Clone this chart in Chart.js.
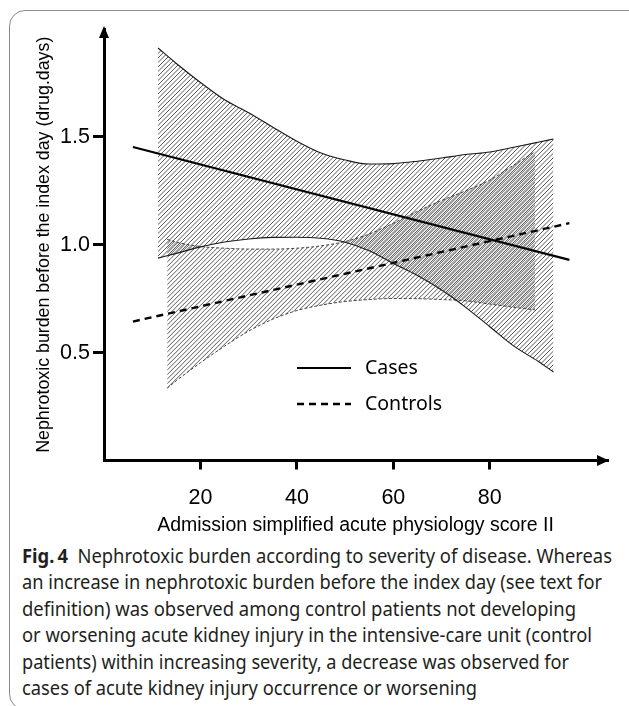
<!DOCTYPE html>
<html><head><meta charset="utf-8">
<script src="https://cdn.jsdelivr.net/npm/chart.js@4.4.1/dist/chart.umd.min.js"></script>
<style>
html,body{margin:0;padding:0;background:#fff;width:629px;height:706px;overflow:hidden;position:relative}
#frame{position:absolute;left:9px;top:10px;width:650px;height:700px;border:1.4px solid #8c8c8c;border-radius:16px;box-sizing:border-box}
#wrap{position:absolute;left:0;top:0;width:629px;height:540px}
#caption{position:absolute;left:22px;top:543px;font-family:'Noto Sans',sans-serif;font-size:19.5px;line-height:26.4px;color:#231f20}
.ln{white-space:nowrap;transform-origin:0 50%;display:block;width:max-content}
</style></head><body>
<div id="frame"></div>
<div id="wrap"><canvas id="c" width="629" height="540"></canvas></div>
<div id="caption"></div>
<script>
// ---- data ----
const xTicks = [20, 40, 60, 80];
const yTicks = [0.5, 1.0, 1.5];
const casesBandX  = [11.2, 15, 20, 25, 30, 35, 40, 45, 50, 55, 60, 65, 70, 75, 80, 85, 90, 93.2];
const casesUpper  = [1.912, 1.84, 1.752, 1.672, 1.612, 1.545, 1.480, 1.425, 1.393, 1.374, 1.376, 1.387, 1.402, 1.418, 1.430, 1.452, 1.475, 1.490];
const casesLower  = [0.938, 0.96, 0.99, 1.013, 1.027, 1.034, 1.035, 1.03, 1.012, 0.972, 0.913, 0.857, 0.79, 0.71, 0.62, 0.53, 0.46, 0.41];
const ctrlBandX   = [13.1, 15, 20, 25, 30, 35, 40, 45, 50, 55, 60, 65, 70, 75, 80, 85, 89.4];
const ctrlUpper   = [1.025, 1.012, 0.992, 0.984, 0.98, 0.98, 0.984, 0.995, 1.015, 1.05, 1.10, 1.155, 1.205, 1.25, 1.30, 1.37, 1.432];
const ctrlLower   = [0.335, 0.37, 0.453, 0.53, 0.60, 0.655, 0.695, 0.72, 0.737, 0.746, 0.751, 0.75, 0.746, 0.74, 0.725, 0.71, 0.698];
const lineX        = [6, 96.5];
const casesLine    = [1.453, 0.93];
const controlsLine = [0.644, 1.10];
const seriesNames  = ['Cases', 'Controls'];
const xTitle = 'Admission simplified acute physiology score II';
const yTitle = 'Nephrotoxic burden before the index day (drug.days)';
const captionLines = [
  '<b>Fig.\u202f4</b>&nbsp; Nephrotoxic burden according to severity of disease. Whereas',
  'an increase in nephrotoxic burden before the index day (see text for',
  'definition) was observed among control patients not developing',
  'or worsening acute kidney injury in the intensive-care unit (control',
  'patients) within increasing severity, a decrease was observed for',
  'cases of acute kidney injury occurrence or worsening'
];
// ---- layout ----
const captionWidths = [590, 580, 554, 570, 547, 455];

function pts(xs, ys){ return xs.map((x,i)=>({x:x, y:ys[i]})); }

function hatch(offset, alpha){
  const w=9, h=9;
  const c=document.createElement('canvas'); c.width=w; c.height=h;
  const g=c.getContext('2d');
  g.strokeStyle='rgba(25,25,25,'+alpha+')'; g.lineWidth=1;
  for (let k=-4;k<=4;k++){
    const x0=k*4.5+offset;
    g.beginPath(); g.moveTo(x0,h); g.lineTo(x0+w,0); g.stroke();
  }
  return g.createPattern(c,'repeat');
}

const arrows = {
  id:'arrows',
  afterDraw(chart){
    const ctx=chart.ctx, a=chart.chartArea;
    ctx.save(); ctx.fillStyle='#000';
    ctx.beginPath(); ctx.moveTo(a.left, a.top-3); ctx.lineTo(a.left-5, a.top+9); ctx.lineTo(a.left+5, a.top+9); ctx.closePath(); ctx.fill();
    ctx.beginPath(); ctx.moveTo(a.right+2, a.bottom); ctx.lineTo(a.right-10, a.bottom-5.5); ctx.lineTo(a.right-10, a.bottom+5.5); ctx.closePath(); ctx.fill();
    ctx.restore();
  }
};

const inlineLegend = {
  id:'inlineLegend',
  afterDatasetsDraw(chart){
    const ctx=chart.ctx, a=chart.chartArea;
    const items=[{ds:4, dy:339}, {ds:5, dy:375}];
    ctx.save();
    items.forEach(it=>{
      const d=chart.data.datasets[it.ds];
      const y=a.top+it.dy;
      ctx.strokeStyle=d.borderColor; ctx.lineWidth=d.borderWidth;
      ctx.setLineDash(d.borderDash||[]);
      ctx.beginPath(); ctx.moveTo(a.left+193, y); ctx.lineTo(a.left+247, y); ctx.stroke();
      ctx.setLineDash([]);
      ctx.fillStyle='#000'; ctx.font='19.5px "Noto Sans"'; ctx.textBaseline='middle';
      ctx.fillText(d.label, a.left+261, y);
    });
    ctx.restore();
  }
};

const ctx=document.getElementById('c').getContext('2d');
const casePat=hatch(0, 0.72), ctrlPat=hatch(1.8, 0.72);

new Chart(ctx,{
  type:'line',
  data:{datasets:[
    {label:'Cases upper', data:pts(casesBandX,casesUpper), borderColor:'#1a1a1a', borderWidth:1.1, pointRadius:0, fill:false, cubicInterpolationMode:'monotone'},
    {label:'Cases lower', data:pts(casesBandX,casesLower), borderColor:'#1a1a1a', borderWidth:1.1, pointRadius:0, fill:'-1', backgroundColor:casePat, cubicInterpolationMode:'monotone'},
    {label:'Controls upper', data:pts(ctrlBandX,ctrlUpper), borderColor:'#444', borderWidth:1, borderDash:[3,2], pointRadius:0, fill:false, cubicInterpolationMode:'monotone'},
    {label:'Controls lower', data:pts(ctrlBandX,ctrlLower), borderColor:'#444', borderWidth:1, borderDash:[3,2], pointRadius:0, fill:'-1', backgroundColor:ctrlPat, cubicInterpolationMode:'monotone'},
    {label:seriesNames[0], data:pts(lineX,casesLine), borderColor:'#000', borderWidth:2.2, pointRadius:0, fill:false},
    {label:seriesNames[1], data:pts(lineX,controlsLine), borderColor:'#000', borderWidth:2.4, borderDash:[7,5], pointRadius:0, fill:false}
  ]},
  options:{
    responsive:false, animation:false, devicePixelRatio:1,
    layout:{padding:{top:29, right:22, left:0, bottom:0}},
    plugins:{legend:{display:false}, tooltip:{enabled:false}},
    scales:{
      x:{type:'linear', min:0, max:104.3,
        afterBuildTicks:s=>{s.ticks=xTicks.map(v=>({value:v}));},
        afterFit:s=>{s.height=79.5;},
        grid:{drawOnChartArea:false, drawTicks:true, tickLength:9, tickWidth:3, tickColor:'#000', color:'#000', lineWidth:3},
        border:{display:true, width:3, color:'#000'},
        ticks:{padding:16, color:'#000', font:{family:'"Liberation Sans", Arial', size:21.5}, maxRotation:0},
        title:{display:true, text:xTitle, color:'#000', font:{family:'"Liberation Sans", Arial', size:19.5}, padding:{top:0,bottom:3}}
      },
      y:{type:'linear', min:0, max:2,
        afterBuildTicks:s=>{s.ticks=yTicks.map(v=>({value:v}));},
        afterFit:s=>{s.width=104;},
        grid:{drawOnChartArea:false, drawTicks:true, tickLength:11, tickWidth:3, tickColor:'#000', color:'#000', lineWidth:3},
        border:{display:true, width:3, color:'#000'},
        ticks:{padding:3, color:'#000', font:{family:'"Liberation Sans", Arial', size:21.5}, callback:v=>v.toFixed(1)},
        title:{display:true, text:yTitle, color:'#000', font:{family:'"Liberation Sans", Arial', size:17.8}, padding:{top:33,bottom:0}}
      }
    }
  },
  plugins:[arrows, inlineLegend]
});

const cap=document.getElementById('caption');
captionLines.forEach((t,i)=>{
  const d=document.createElement('div'); d.className='ln'; d.innerHTML=t; cap.appendChild(d);
  const w=d.getBoundingClientRect().width;
  d.style.transform='scaleX('+(captionWidths[i]/w).toFixed(4)+')';
});
</script>
</body></html>
